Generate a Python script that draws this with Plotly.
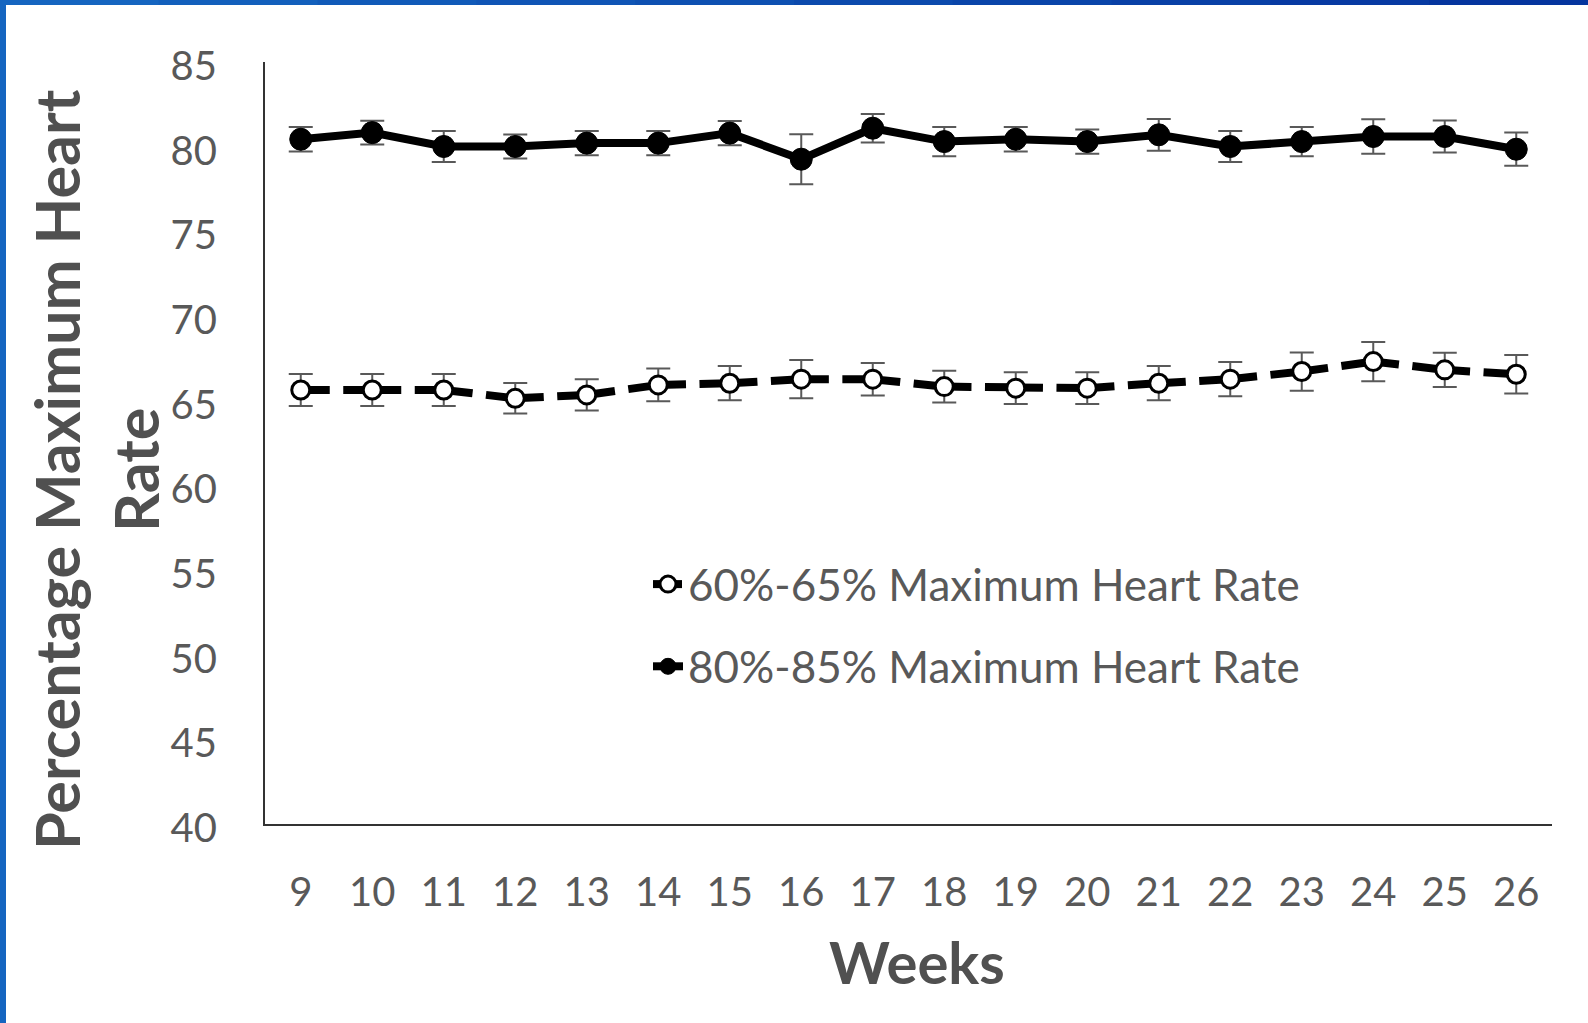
import plotly.graph_objects as go

weeks = [str(w) for w in range(9, 27)]

low_name = "60%-65% Maximum Heart Rate"
low_mean = [65.63, 65.63, 65.63, 65.14, 65.34, 65.93, 66.03, 66.27, 66.27,
            65.83, 65.74, 65.74, 66.03, 66.27, 66.72, 67.31, 66.82, 66.56]
low_err = [0.94, 0.94, 0.94, 0.90, 0.92, 0.97, 1.01, 1.13, 0.96,
           0.94, 0.94, 0.94, 1.01, 1.01, 1.13, 1.16, 1.01, 1.13]

high_name = "80%-85% Maximum Heart Rate"
high_mean = [80.44, 80.83, 80.01, 80.01, 80.21, 80.21, 80.80, 79.26, 81.09,
             80.30, 80.44, 80.30, 80.70, 80.01, 80.30, 80.60, 80.60, 79.85]
high_err = [0.72, 0.70, 0.92, 0.71, 0.72, 0.72, 0.71, 1.48, 0.84,
            0.86, 0.72, 0.72, 0.94, 0.92, 0.86, 1.02, 0.95, 0.98]

y_ticks = list(range(40, 90, 5))

TXT = "#595959"
FONT = "Lato"

fig = go.Figure()

fig.add_trace(go.Scatter(
    x=weeks, y=low_mean, name=low_name, mode="lines+markers",
    legendgroup="a",
    line=dict(color="black", width=8, dash="29px,13.5px,29px,0px"),
    marker=dict(symbol="circle", size=18, color="white",
                line=dict(color="black", width=3)),
    error_y=dict(type="data", array=low_err, visible=True,
                 color=TXT, thickness=2, width=12),
))
fig.add_trace(go.Scatter(
    x=weeks, y=high_mean, name=high_name, mode="lines+markers",
    legendgroup="b",
    line=dict(color="black", width=8),
    marker=dict(symbol="circle", size=22, color="black",
                line=dict(color="black", width=1)),
    error_y=dict(type="data", array=high_err, visible=True,
                 color=TXT, thickness=2, width=12),
))

# page border (blue frame on left and top)
L, R, T, B = 265, 1552, 62, 824
W, H = 1588, 1023
def px(x):
    return (x - L) / (R - L)
def py(y):
    return (B - y) / (B - T)

shapes = [dict(type="rect", xref="paper", yref="paper", x0=px(0), x1=px(6),
               y0=py(H), y1=py(0), fillcolor="#1565C0", line=dict(width=0),
               layer="above")]
n = 10
c0 = (0x15, 0x65, 0xC0)
c1 = (0x05, 0x35, 0x9E)
for i in range(n):
    t = i / (n - 1)
    col = "rgb(%d,%d,%d)" % tuple(round(a + (b - a) * t) for a, b in zip(c0, c1))
    shapes.append(dict(type="rect", xref="paper", yref="paper",
                       x0=px(W * i / n), x1=px(W * (i + 1) / n + 1),
                       y0=py(5), y1=py(0), fillcolor=col, line=dict(width=0),
                       layer="above"))

fig.update_layout(
    width=W, height=H,
    margin=dict(l=L, r=W - R, t=T, b=H - B, pad=0),
    paper_bgcolor="white", plot_bgcolor="white",
    font=dict(family=FONT, color=TXT, size=40),
    showlegend=True,
    legend=dict(x=px(648), y=py(549), xanchor="left", yanchor="top",
                font=dict(family=FONT, size=44, color=TXT),
                bgcolor="rgba(0,0,0,0)", tracegroupgap=22, itemwidth=30),
    xaxis=dict(type="category", range=[-0.5, 17.5], showgrid=False,
               zeroline=False, showline=True, linecolor="#333333", linewidth=2,
               ticks="", tickfont=dict(size=40, color=TXT),
               ticklabelstandoff=32),
    yaxis=dict(range=[40, 85], tickvals=y_ticks, showgrid=False,
               zeroline=False, showline=True, linecolor="#333333", linewidth=2,
               ticks="", tickfont=dict(size=40, color=TXT),
               ticklabelstandoff=38, ticklabelshift=4),
    shapes=shapes,
    annotations=[
        dict(text="Percentage Maximum Heart<br>Rate", textangle=-90,
             xref="paper", yref="paper", x=px(96), y=py(470),
             xanchor="center", yanchor="middle", showarrow=False,
             font=dict(family=FONT, size=61, color="#505050", weight="bold")),
        dict(text="Weeks", xref="paper", yref="paper", x=px(917), y=py(961),
             xanchor="center", yanchor="middle", showarrow=False,
             font=dict(family=FONT, size=58, color="#505050", weight="bold")),
    ],
)

fig.write_html("out.html")
